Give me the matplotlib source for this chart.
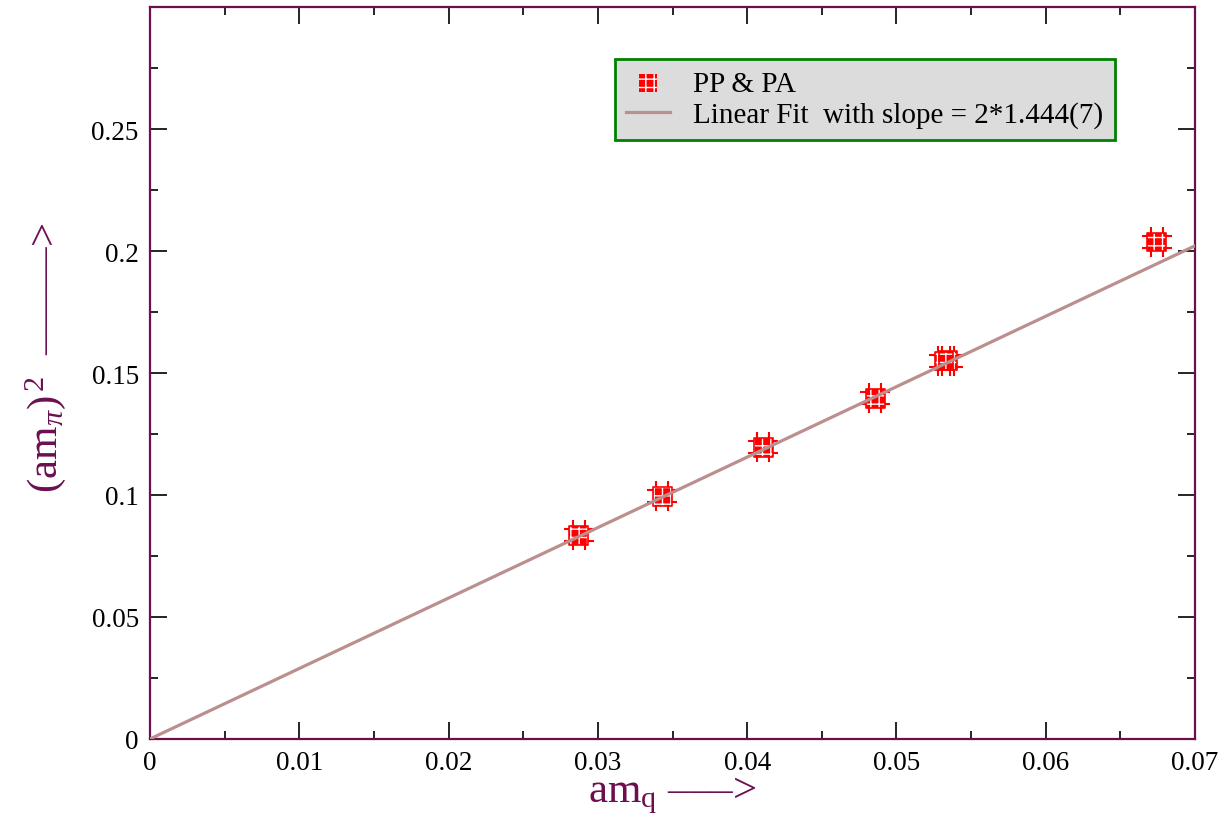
import matplotlib
matplotlib.use("Agg")
import matplotlib.pyplot as plt
import numpy as np
from matplotlib.ticker import MultipleLocator
from matplotlib.path import Path

plt.rcParams['font.family'] = ['Liberation Serif', 'DejaVu Serif']
plt.rcParams['mathtext.fontset'] = 'custom'
plt.rcParams['mathtext.rm'] = 'Liberation Serif'
plt.rcParams['mathtext.it'] = 'Liberation Serif:italic'

# data (PP & PA)
pt_x = [0.02873, 0.03432, 0.04108, 0.04858, 0.05318, 0.05345, 0.06742]
pt_y = [0.0834, 0.0994, 0.1195, 0.1396, 0.1549, 0.1551, 0.2037]
slope = 2 * 1.444
fit_x = [0.0, 0.07]
x_ticks = [0, 0.01, 0.02, 0.03, 0.04, 0.05, 0.06, 0.07]
x_labels = ['0', '0.01', '0.02', '0.03', '0.04', '0.05', '0.06', '0.07']
y_ticks = [0, 0.05, 0.1, 0.15, 0.2, 0.25]
y_labels = ['0', '0.05', '0.1', '0.15', '0.2', '0.25']

# '#'-shaped error-bar glyph (style only)
a = 0.4
hash_path = Path(
    [(-a, -1), (-a, 1), (a, -1), (a, 1), (-1, -a), (1, -a), (-1, a), (1, a)],
    [Path.MOVETO, Path.LINETO] * 4)

purple = '#6b0f4f'
fig = plt.figure(figsize=(12.22, 8.29), dpi=100)
ax = fig.add_axes([0.1227, 0.1074, 0.8553, 0.8829])

fx = np.array(fit_x)
fit_line, = ax.plot(fx, slope * fx, color='#bc8f8f', lw=2.3, zorder=6,
                    label='Linear Fit  with slope = 2*1.444(7)')

ax.plot(pt_x, pt_y, linestyle='none', marker=hash_path, markersize=22,
        markeredgecolor='red', markerfacecolor='none', markeredgewidth=1.5, zorder=4)
ax.scatter(pt_x, pt_y, marker='s', s=185, facecolor='red', edgecolor='white',
           hatch='++', linewidths=0, zorder=5)
ax.scatter(pt_x, pt_y, marker='s', s=185, facecolor='none', edgecolor='red',
           linewidths=1.2, zorder=5)
h_pts = ax.scatter([], [], marker='s', s=170, facecolor='red', edgecolor='white',
                   hatch='++', linewidths=0)

ax.set_xlim(0, 0.07)
ax.set_ylim(0, 0.3)
ax.xaxis.set_minor_locator(MultipleLocator(0.005))
ax.yaxis.set_minor_locator(MultipleLocator(0.025))
ax.set_xticks(x_ticks)
ax.set_xticklabels(x_labels)
ax.set_yticks(y_ticks)
ax.set_yticklabels(y_labels)
ax.tick_params(which='both', direction='in', top=True, right=True, color='black',
               labelsize=19.5, width=1.2)
ax.tick_params(which='major', length=12, pad=8)
ax.tick_params(which='minor', length=6)
for s in ax.spines.values():
    s.set_color(purple)
    s.set_linewidth(1.6)

ax.set_xlabel(r'am$_\mathrm{q}$ ' + '\u2013\u2013\u2013>',
              fontsize=31, color=purple, labelpad=0)
ax.set_ylabel(r'(am$_{\pi}$)$^{\,\mathrm{2}}$  ' + '\u2013\u2013\u2013\u2013\u2013>',
              fontsize=31, color=purple)
ax.yaxis.set_label_coords(-0.078, 0.522)

leg = ax.legend([h_pts, fit_line], ['PP & PA', 'Linear Fit  with slope = 2*1.444(7)'],
                loc='upper right', bbox_to_anchor=(0.9234, 0.929), fontsize=21,
                frameon=True, fancybox=False, facecolor='#dcdcdc', edgecolor='#008000',
                framealpha=1, borderpad=0.4, labelspacing=0.15, handlelength=1.5,
                handletextpad=0.8, borderaxespad=0)
leg.get_frame().set_linewidth(2)

fig.savefig('out.png', dpi=100)
